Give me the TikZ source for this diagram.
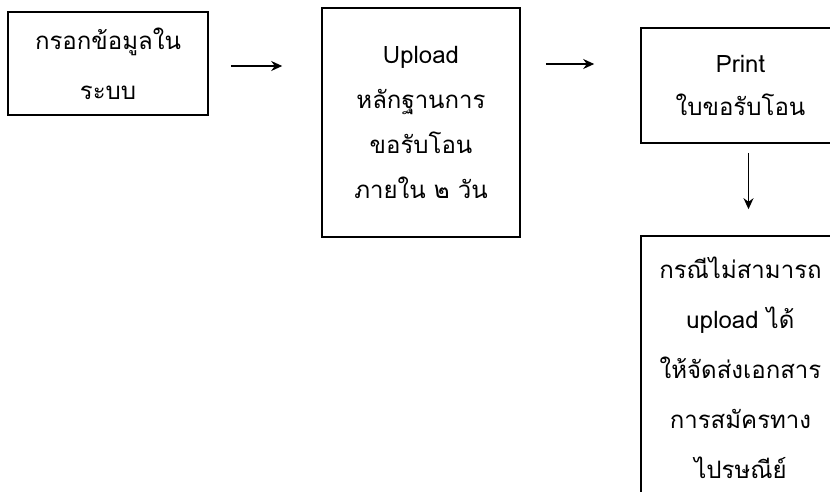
\documentclass[tikz,border=0pt]{standalone}
\usepackage{fontspec}
\setmainfont[Script=Thai]{Loma}
\usetikzlibrary{arrows.meta}
\begin{document}
\begin{tikzpicture}[x=1pt,y=-1pt,
    stepbox/.style={draw,line width=1.6pt,align=center,inner sep=0pt},
    flow/.style={line width=1.6pt,-{Stealth[length=11pt,width=10pt]}}]
    \clip (0,0) rectangle (830,492);
    \fill[white] (0,0) rectangle (830,492);

    % boxes
    \node[stepbox,minimum width=200,minimum height=103,font=\fontsize{24}{50}\selectfont] (fill) at (108,63.5) {กรอกข้อมูลใน\\ระบบ};
    \node[stepbox,minimum width=198,minimum height=229,font=\fontsize{24}{45}\selectfont] (upload) at (421,122.5) {Upload\\หลักฐานการ\\ขอรับโอน\\ภายใน ๒ วัน};
    \node[stepbox,minimum width=199,minimum height=115,font=\fontsize{24}{43}\selectfont] (print) at (740.5,85.5) {Print\\ใบขอรับโอน};
    \node[stepbox,minimum width=199,minimum height=264,font=\fontsize{24}{50}\selectfont] (post) at (740.5,368) {กรณีไม่สามารถ\\upload ได้\\ให้จัดส่งเอกสาร\\การสมัครทาง\\ไปรษณีย์};

    % arrows
    \draw[flow,shorten <=22,shorten >=39] (fill.east |- 0,66) -- (upload.west |- 0,66);
    \draw[flow,shorten <=25,shorten >=46] (upload.east |- 0,64) -- (print.west |- 0,64);
    \draw[flow,shorten <=9,shorten >=26] ([xshift=8]print.south) -- ([xshift=8]post.north);
\end{tikzpicture}
\end{document}
